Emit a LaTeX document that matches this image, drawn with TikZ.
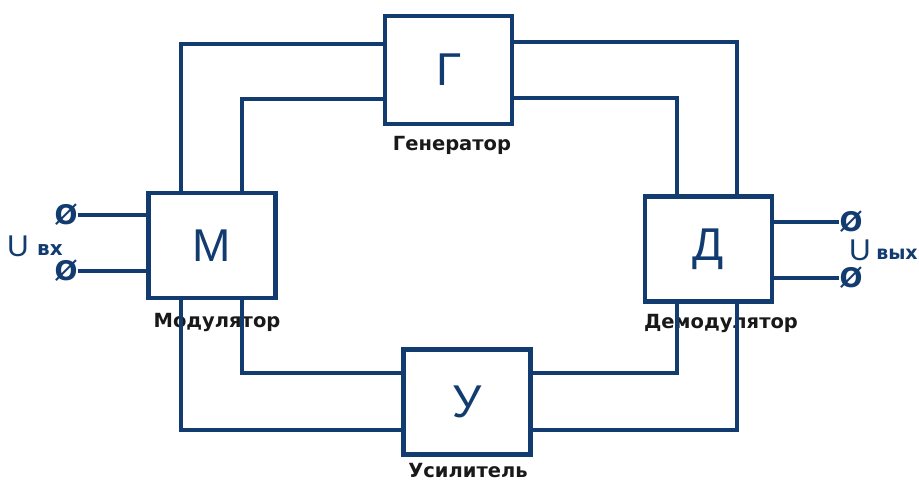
\documentclass[tikz,border=0pt]{standalone}
\usepackage{fontspec}
\setmainfont{DejaVu Sans}
\newfontfamily\glyphfont{Liberation Sans}
\definecolor{navyline}{RGB}{18,60,112}

\begin{document}
\begin{tikzpicture}[x=1pt, y=-1pt,
    block/.style={rectangle, draw=navyline, line width=4.2pt, minimum width=127pt, minimum height=105pt, inner sep=0pt, text=navyline, font=\glyphfont\fontsize{46}{46}\selectfont},
    link/.style={draw=navyline, line width=3.3pt},
    term/.style={inner sep=0pt, text=navyline, font=\bfseries\fontsize{27}{27}\selectfont},
    caption/.style={anchor=base, text=black!90, font=\bfseries\fontsize{19.5}{19.5}\selectfont},
]

\path[use as bounding box] (0,0) rectangle (919,482);

% ---- Blocks ----
\node[block, minimum height=108pt] (gen) at (448.5,70) {Г};
\node[block] (mod) at (212,245.5) {М};
\node[block] (dem) at (708.5,249) {Д};
\node[block] (amp) at (467,402) {У};

% ---- Captions ----
\node[caption] (genlbl) at (452,150) {Генератор};
\node[caption] (modlbl) at (217,327) {Модулятор};
\node[caption] (demlbl) at (721,328) {Демодулятор};
\node[caption] (amplbl) at (468,477) {Усилитель};

% ---- Terminals ----
\node[term] (inA) at (66,215) {Ø};
\node[term] (inB) at (66,271) {Ø};
\node[term] (outA) at (851,222) {Ø};
\node[term] (outB) at (851,278) {Ø};

\node[text=navyline, font=\glyphfont\fontsize{30}{30}\selectfont] (uin) at (18,246) {U};
\node[text=navyline, font=\bfseries\fontsize{20}{20}\selectfont] (uinsub) at (50,250) {вх};
\node[text=navyline, font=\glyphfont\fontsize{30}{30}\selectfont] (uout) at (860,250) {U};
\node[text=navyline, font=\bfseries\fontsize{19}{19}\selectfont] (uoutsub) at (897,254) {вых};

% ---- Inputs and outputs ----
\draw[link] (inA.east) -- (inA -| mod.west);
\draw[link] (inB.east) -- (inB -| mod.west);
\draw[link] (outA -| dem.east) -- (outA.west);
\draw[link] (outB -| dem.east) -- (outB.west);

% ---- Upper loop ----
\draw[link] ([xshift=-31pt]mod.north) |- ([yshift=26pt]gen.west);
\draw[link] ([xshift=30pt]mod.north) |- ([yshift=-29pt]gen.west);
\draw[link] ([yshift=28pt]gen.east) -| ([xshift=28.5pt]dem.north);
\draw[link] ([yshift=-28pt]gen.east) -| ([xshift=-31.5pt]dem.north);

% ---- Lower loop ----
\draw[link] ([xshift=-31pt]mod.south) |- ([yshift=-28pt]amp.west);
\draw[link] ([xshift=30pt]mod.south) |- ([yshift=29pt]amp.west);
\draw[link] ([yshift=29pt]amp.east) -| ([xshift=-31.5pt]dem.south);
\draw[link] ([yshift=-28pt]amp.east) -| ([xshift=28.5pt]dem.south);

\end{tikzpicture}
\end{document}
